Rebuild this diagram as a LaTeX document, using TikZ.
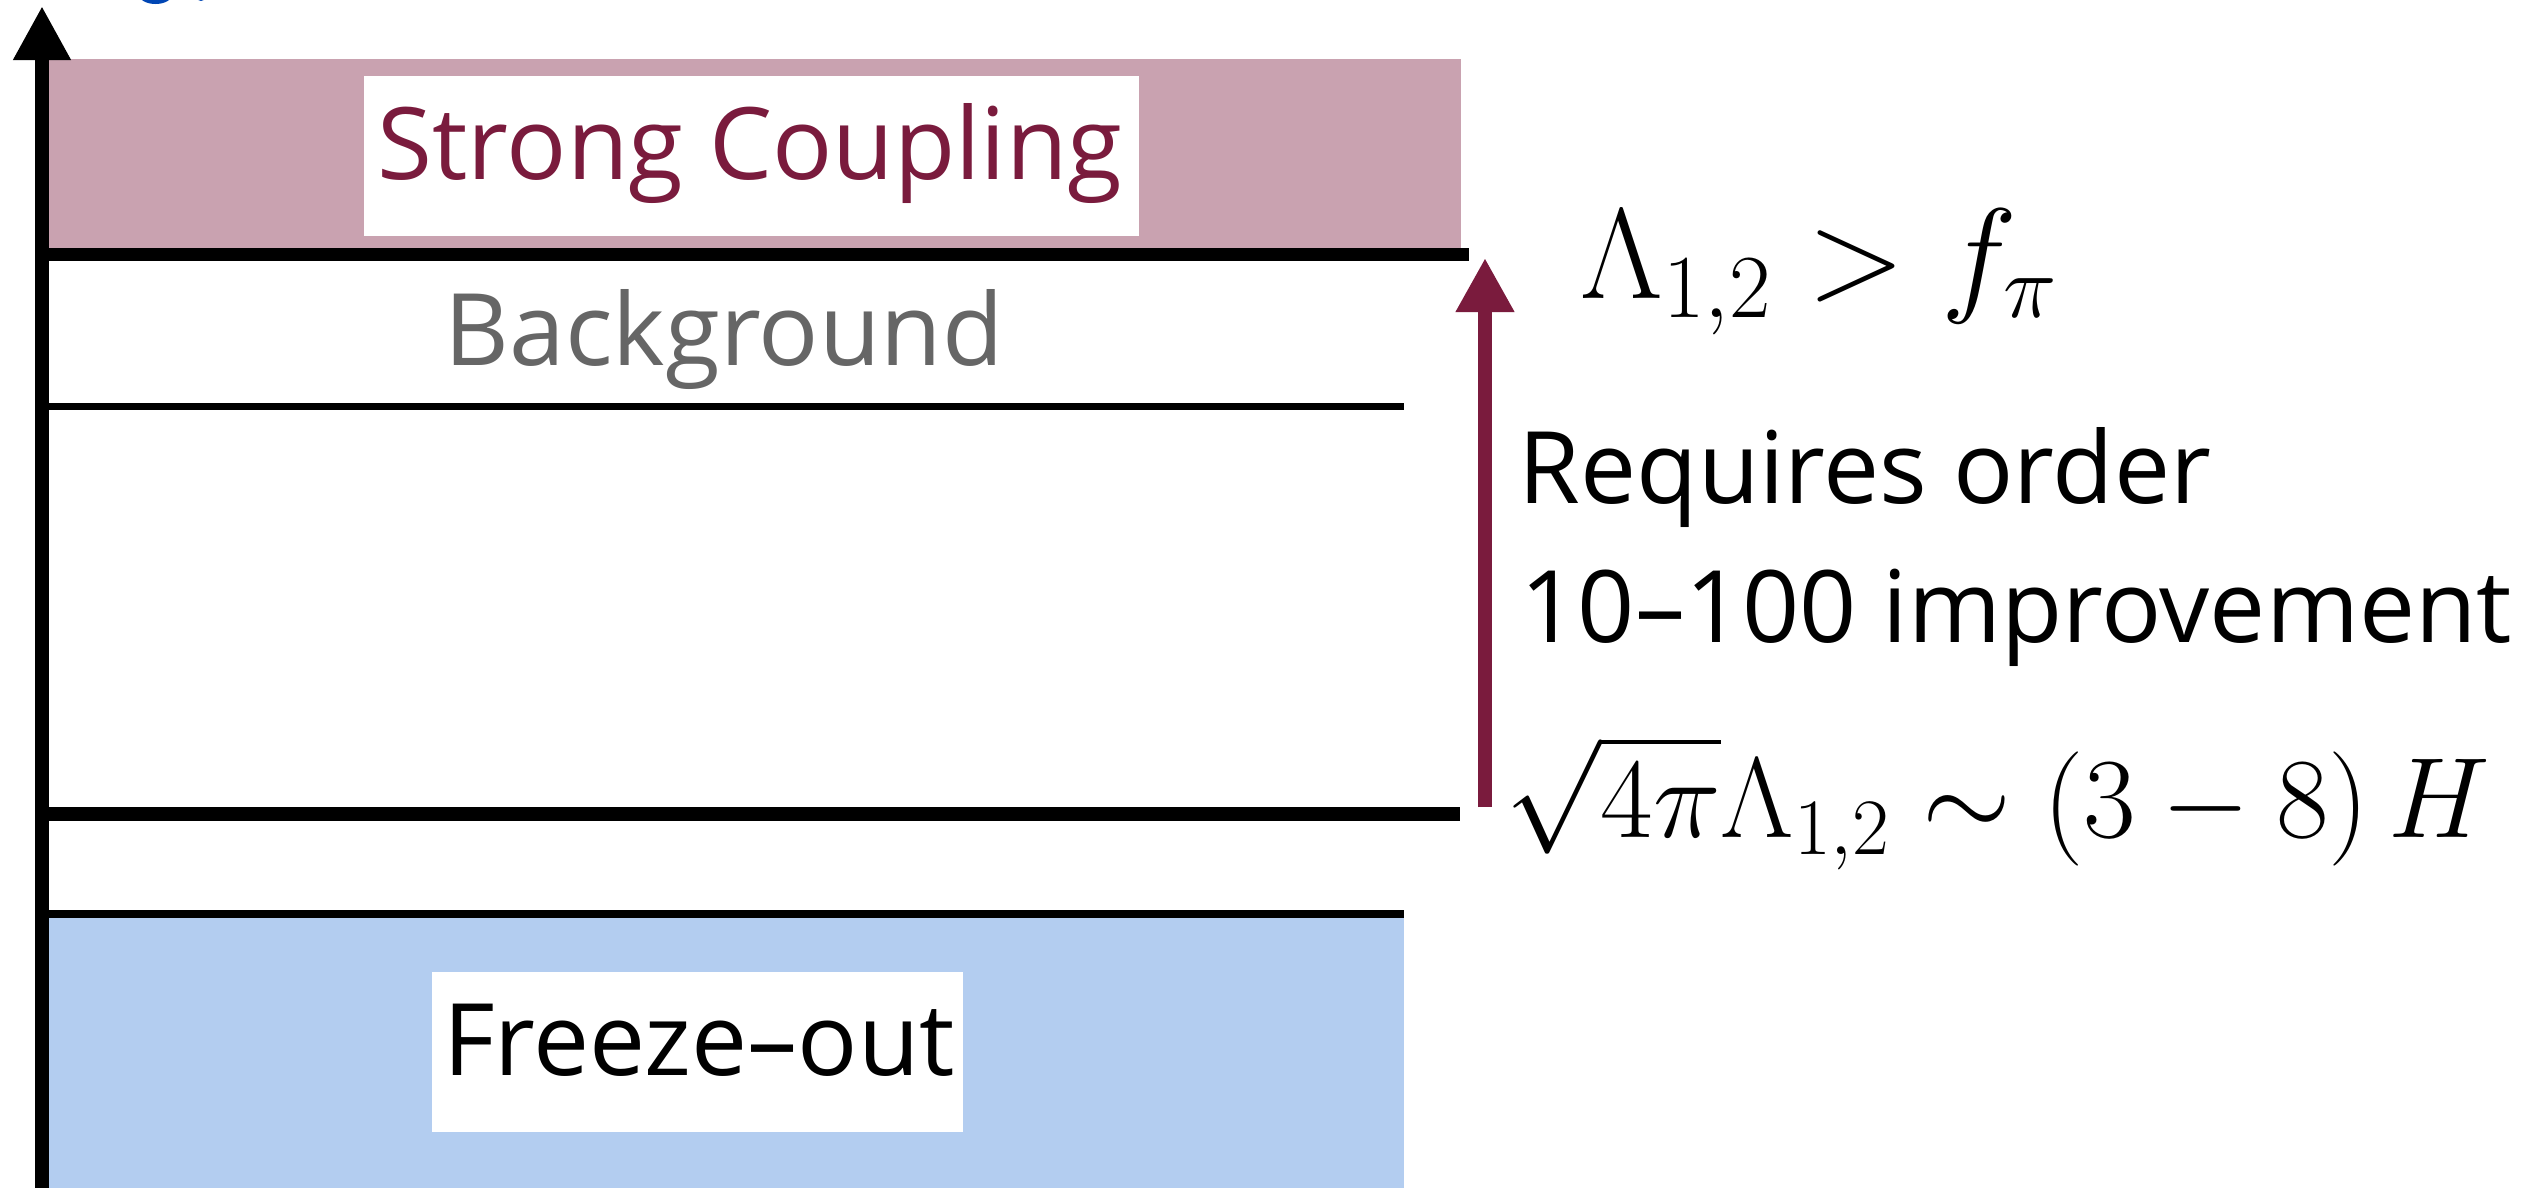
\RequirePackage{fix-cm}
\documentclass[tikz,border=0pt]{standalone}
\usepackage{fontspec}
\newfontfamily\osans{Open Sans}
\usetikzlibrary{arrows.meta}
\definecolor{pinkfill}{RGB}{201,162,176}
\definecolor{wine}{RGB}{122,27,61}
\definecolor{bluefill}{RGB}{179,205,240}
\definecolor{graytxt}{RGB}{102,102,102}
\definecolor{blobblue}{RGB}{0,70,180}
\tikzset{
  lbl/.style={font=\osans\fontsize{28.45}{34}\selectfont, inner sep=0pt},
  whitebox/.style={fill=white, draw=none, inner sep=0pt},
  thickrule/.style={line width=3.8pt, line cap=butt},
  thinrule/.style={line width=2pt, line cap=butt},
  axisarrow/.style={line width=4pt, -{Triangle[length=15.4pt,width=15.4pt]}},
  reqarrow/.style={wine, line width=3.8pt, -{Triangle[length=15.4pt,width=15.7pt]}},
}
\begin{document}
\begin{tikzpicture}[x=0.01cm,y=-0.01cm]
\useasboundingbox (0,0) rectangle (2542,1188);
\fill[white] (0,0) rectangle (2542,1188);
% partial blue glyph at top edge
\fill[blobblue] (155.5,-6) ellipse [x radius=0.17cm, y radius=0.1cm];
\fill[blobblue] (201,-2) ellipse [x radius=0.035cm, y radius=0.03cm];
% bands
\fill[pinkfill] (48,59) rectangle (1461,250);
\fill[bluefill] (48,916) rectangle (1404,1188);
% white label boxes
\node[whitebox, minimum width=7.75cm, minimum height=1.6cm] (scbox) at (751.5,156) {};
\node[whitebox, minimum width=5.31cm, minimum height=1.6cm] (fobox) at (697.5,1052) {};
% horizontal rules
\draw[thickrule] (48,254.5) -- (1469,254.5);
\draw[thinrule] (48,406.5) -- (1404,406.5);
\draw[thickrule] (48,814) -- (1460,814);
\draw[thinrule] (48,914) -- (1404,914);
% vertical axis
\coordinate (axbot) at (42,1200);
\coordinate (axtop) at (42,6);
\draw[axisarrow] (axbot) -- (axtop);
% band labels
\node[lbl, text=wine, anchor=base] (sctext) at (750,180) {Strong Coupling};
\node[lbl, text=graytxt, anchor=base] (bgtext) at (724,366) {Background};
\node[lbl, anchor=base] (fotext) at (699,1075) {Freeze–out};
% requirement arrow
\coordinate (pabot) at (1485,807);
\coordinate (patop) at (1485,258);
\draw[reqarrow] (pabot) -- (patop);
% right-hand texts
\node[inner sep=0pt, anchor=base west, font=\fontsize{36.6}{43}\selectfont] (upper) at (1580,298) {$\Lambda_{1,2} > f_\pi$};
\node[lbl, anchor=base west] (req1) at (1518,503) {Requires order};
\node[lbl, anchor=base west] (req2) at (1520,642) {10–100 improvement};
\node[inner sep=0pt, anchor=base west, font=\fontsize{32.5}{39}\selectfont] (lower) at (1505,837) {$\sqrt{4\pi}\Lambda_{1,2} \sim (3-8)\,H$};
\end{tikzpicture}
\end{document}
